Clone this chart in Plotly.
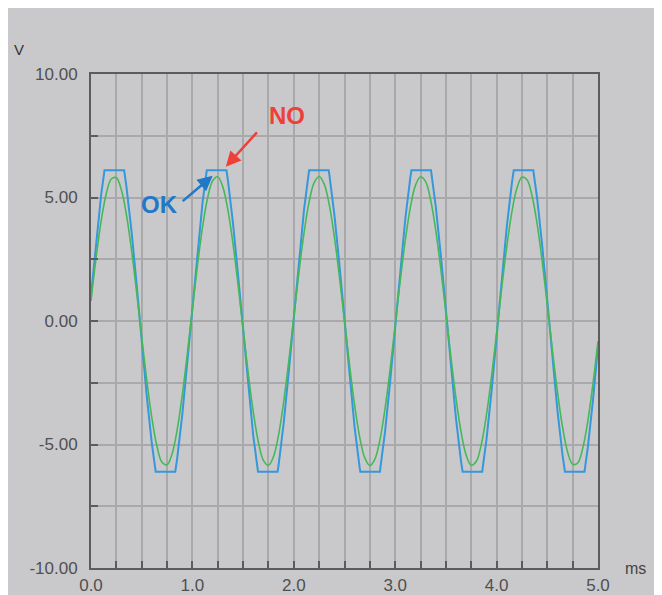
import plotly.graph_objects as go

# ---- data ----
t_green = [round(0.05 * i, 2) for i in range(101)]
v_green = [0.81, 2.55, 4.04, 5.14, 5.75, 5.80, 5.30, 4.29, 2.86, 1.16,
           -0.65, -2.40, -3.92, -5.06, -5.72, -5.82, -5.37, -4.40, -3.00, -1.32,
           0.49, 2.25, 3.80, 4.98, 5.68, 5.84, 5.43, 4.50, 3.14, 1.48,
           -0.33, -2.10, -3.67, -4.89, -5.64, -5.84, -5.49, -4.61, -3.28, -1.64,
           0.16, 1.95, 3.54, 4.80, 5.59, 5.85, 5.54, 4.70, 3.41, 1.79,
           0.00, -1.79, -3.41, -4.70, -5.54, -5.85, -5.59, -4.80, -3.54, -1.95,
           -0.16, 1.64, 3.28, 4.61, 5.49, 5.84, 5.64, 4.89, 3.67, 2.10,
           0.33, -1.48, -3.14, -4.50, -5.43, -5.84, -5.68, -4.98, -3.80, -2.25,
           -0.49, 1.32, 3.00, 4.40, 5.37, 5.82, 5.72, 5.06, 3.92, 2.40,
           0.65, -1.16, -2.86, -4.29, -5.30, -5.80, -5.75, -5.14, -4.04, -2.55,
           -0.81]

t_blue = [0.00, 0.05, 0.10, 0.133, 0.327, 0.35, 0.40, 0.45, 0.50, 0.55, 0.60, 0.638, 0.831, 0.85, 0.90, 0.95,
          1.00, 1.05, 1.10, 1.142, 1.336, 1.35, 1.40, 1.45, 1.50, 1.55, 1.60, 1.647, 1.840, 1.85, 1.90, 1.95,
          2.00, 2.05, 2.10, 2.151, 2.344, 2.35, 2.40, 2.45, 2.50, 2.55, 2.60, 2.65, 2.656, 2.849, 2.90, 2.95,
          3.00, 3.05, 3.10, 3.15, 3.160, 3.353, 3.40, 3.45, 3.50, 3.55, 3.60, 3.65, 3.665, 3.858, 3.90, 3.95,
          4.00, 4.05, 4.10, 4.15, 4.169, 4.362, 4.40, 4.45, 4.50, 4.55, 4.60, 4.65, 4.674, 4.867, 4.90, 4.95, 5.00]
v_blue = [1.03, 3.22, 5.11, 6.1, 6.1, 5.42, 3.62, 1.47, -0.83, -3.04, -4.96, -6.1, -6.1, -5.56, -3.80, -1.67,
          0.62, 2.85, 4.80, 6.1, 6.1, 5.70, 3.97, 1.87, -0.41, -2.66, -4.64, -6.1, -6.1, -5.83, -4.15, -2.07,
          0.21, 2.46, 4.48, 6.1, 6.1, 5.95, 4.32, 2.27, 0.00, -2.27, -4.32, -5.95, -6.1, -6.1, -4.48, -2.46,
          -0.21, 2.07, 4.15, 5.83, 6.1, 6.1, 4.64, 2.66, 0.41, -1.87, -3.97, -5.70, -6.1, -6.1, -4.80, -2.85,
          -0.62, 1.67, 3.80, 5.56, 6.1, 6.1, 4.96, 3.04, 0.83, -1.47, -3.62, -5.42, -6.1, -6.1, -5.11, -3.22, -1.03]

x_ticks = [0, 1, 2, 3, 4, 5]
x_tick_labels = ["0.0", "1.0", "2.0", "3.0", "4.0", "5.0"]
y_ticks = [-10, -5, 0, 5, 10]
y_tick_labels = ["-10.00", "-5.00", "0.00", "5.00", "10.00"]

GRAY = "#c9c9cb"
GRID = "#a9a9ab"
FRAME = "#5c5c5c"
TXT = "#505050"

fig = go.Figure()
fig.add_trace(go.Scatter(x=t_blue, y=v_blue, mode="lines",
                         line=dict(color="#3597dc", width=2), hoverinfo="skip"))
fig.add_trace(go.Scatter(x=t_green, y=v_green, mode="lines",
                         line=dict(color="#45b95a", width=1.6, shape="spline"), hoverinfo="skip"))

axis_common = dict(showline=True, linecolor=FRAME, linewidth=2, mirror=True,
                   ticks="inside", ticklen=7, tickcolor=FRAME, tickwidth=1.5,
                   showgrid=True, gridcolor=GRID, gridwidth=1.5, zeroline=False,
                   tickfont=dict(family="Liberation Sans, Arial", size=17, color=TXT))

fig.update_xaxes(range=[0, 5], tickvals=x_ticks, ticktext=x_tick_labels,
                 minor=dict(dtick=0.25, tick0=0, ticks="inside", ticklen=7, tickcolor=FRAME,
                            showgrid=True, gridcolor=GRID, gridwidth=1.5),
                 ticklabelstandoff=1, **axis_common)
fig.update_yaxes(range=[-10, 10], tickvals=y_ticks, ticktext=y_tick_labels,
                 minor=dict(dtick=2.5, tick0=0, ticks="inside", ticklen=7, tickcolor=FRAME,
                            showgrid=True, gridcolor=GRID, gridwidth=1.5),
                 ticklabelstandoff=8, **axis_common)

fig.update_layout(
    width=662, height=595,
    margin=dict(l=83, r=72, t=66, b=35, autoexpand=False),
    paper_bgcolor=GRAY, plot_bgcolor=GRAY,
    showlegend=False,
    annotations=[
        dict(xref="paper", yref="paper", x=-0.155, y=1.071, text="V", showarrow=False,
             font=dict(family="Liberation Sans, Arial", size=15, color="#333333")),
        dict(xref="paper", yref="paper", x=1.099, y=-0.022, text="ms", showarrow=False,
             font=dict(family="Liberation Sans, Arial", size=16, color="#444444")),
        dict(x=1.93, y=8.34, text="<b>NO</b>", showarrow=False,
             font=dict(family="Liberation Sans, Arial", size=24, color="#ee4038")),
        dict(x=1.33, y=6.25, ax=1.65, ay=7.7, axref="x", ayref="y", text="",
             showarrow=True, arrowhead=2, arrowsize=1.2, arrowwidth=2.5, arrowcolor="#ee4038"),
        dict(x=0.68, y=4.7, text="<b>OK</b>", showarrow=False,
             font=dict(family="Liberation Sans, Arial", size=24, color="#1f78c8")),
        dict(x=1.20, y=5.88, ax=0.89, ay=4.8, axref="x", ayref="y", text="",
             showarrow=True, arrowhead=2, arrowsize=1.2, arrowwidth=2.5, arrowcolor="#1f78c8"),
    ],
)

fig.write_html("out.html")
